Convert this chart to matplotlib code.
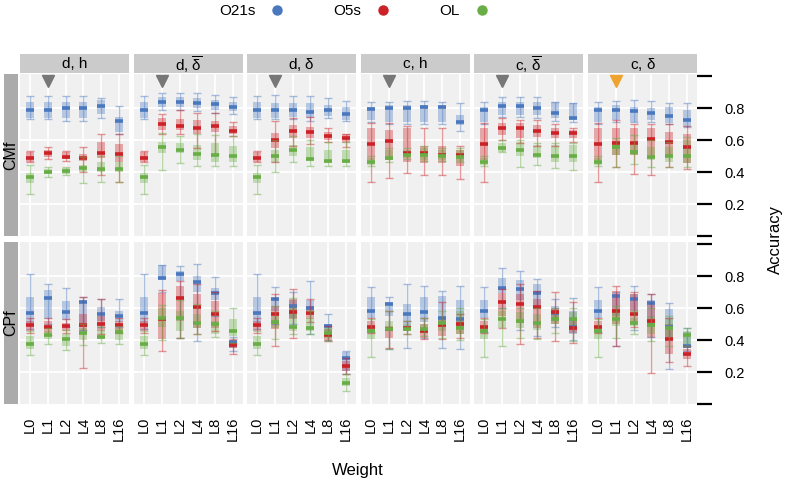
import matplotlib
matplotlib.use("Agg")
from matplotlib import pyplot as plt
from matplotlib.lines import Line2D
import numpy as np

plt.rcParams['font.family'] = ['Liberation Sans', 'DejaVu Sans']
plt.rcParams['mathtext.fontset'] = 'custom'
plt.rcParams['mathtext.rm'] = 'Liberation Sans'
plt.rcParams['mathtext.it'] = 'Liberation Sans'

panels = ["d, h", r"d, $\overline{\delta}$", r"d, $\delta$",
          "c, h", r"c, $\overline{\delta}$", r"c, $\delta$"]
weights = ["L0", "L1", "L2", "L4", "L8", "L16"]
rows = ["CMf", "CPf"]
series = ["O21s", "O5s", "OL"]
series_colors = ["#4a78be", "#cc2127", "#68ad45"]

# marker above the chosen weight in every panel
marker_weight = "L1"
marker_level = 0.97
marker_colors = ["#777777"] * 5 + ["#f0a22e"]

# each entry: (lower whisker, q1, median, q3, upper whisker), panels x weights
o21s_cmf = [
    [(0.73, 0.74, 0.79, 0.84, 0.875), (0.73, 0.74, 0.79, 0.84, 0.875), (0.72, 0.735, 0.80, 0.84, 0.875),
     (0.72, 0.735, 0.80, 0.84, 0.875), (0.74, 0.76, 0.815, 0.85, 0.865), (0.64, 0.65, 0.72, 0.745, 0.815)],
    [(0.73, 0.74, 0.79, 0.84, 0.875), (0.79, 0.808, 0.84, 0.867, 0.896), (0.79, 0.808, 0.837, 0.867, 0.896),
     (0.78, 0.80, 0.829, 0.86, 0.892), (0.77, 0.79, 0.823, 0.85, 0.88), (0.76, 0.78, 0.808, 0.84, 0.87)],
    [(0.73, 0.74, 0.79, 0.84, 0.875), (0.73, 0.74, 0.7875, 0.833, 0.881), (0.73, 0.745, 0.7875, 0.829, 0.875),
     (0.72, 0.735, 0.777, 0.829, 0.875), (0.74, 0.75, 0.7875, 0.819, 0.86), (0.72, 0.725, 0.76, 0.808, 0.846)],
    [(0.71, 0.725, 0.794, 0.808, 0.84), (0.70, 0.715, 0.798, 0.819, 0.84), (0.70, 0.715, 0.798, 0.819, 0.846),
     (0.70, 0.715, 0.808, 0.819, 0.846), (0.70, 0.715, 0.808, 0.819, 0.84), (0.658, 0.694, 0.715, 0.756, 0.829)],
    [(0.70, 0.715, 0.79, 0.808, 0.84), (0.745, 0.756, 0.815, 0.84, 0.867), (0.745, 0.756, 0.813, 0.84, 0.871),
     (0.74, 0.756, 0.798, 0.84, 0.871), (0.72, 0.735, 0.767, 0.84, 0.84), (0.71, 0.725, 0.74, 0.829, 0.833)],
    [(0.70, 0.715, 0.79, 0.808, 0.84), (0.715, 0.725, 0.7875, 0.819, 0.844), (0.71, 0.715, 0.78, 0.808, 0.85),
     (0.715, 0.725, 0.77, 0.798, 0.844), (0.70, 0.704, 0.75, 0.808, 0.833), (0.68, 0.683, 0.725, 0.788, 0.829)],
]
o5s_cmf = [
    [(0.46, 0.465, 0.49, 0.527, 0.53), (0.48, 0.496, 0.517, 0.537, 0.554), (0.47, 0.479, 0.496, 0.527, 0.53),
     (0.40, 0.47, 0.49, 0.51, 0.558), (0.38, 0.49, 0.52, 0.59, 0.64), (0.34, 0.46, 0.51, 0.575, 0.64)],
    [(0.46, 0.465, 0.49, 0.527, 0.53), (0.6375, 0.6625, 0.698, 0.735, 0.7625), (0.64, 0.66, 0.69, 0.73, 0.7875),
     (0.55, 0.6375, 0.677, 0.725, 0.77), (0.51, 0.65, 0.6875, 0.719, 0.77), (0.625, 0.637, 0.658, 0.69, 0.71)],
    [(0.46, 0.465, 0.49, 0.527, 0.53), (0.465, 0.548, 0.60, 0.646, 0.72), (0.56, 0.61, 0.658, 0.694, 0.735),
     (0.575, 0.61, 0.652, 0.679, 0.745), (0.59, 0.60, 0.625, 0.652, 0.673), (0.558, 0.58, 0.615, 0.637, 0.64)],
    [(0.34, 0.475, 0.575, 0.673, 0.704), (0.36, 0.475, 0.596, 0.6625, 0.704), (0.396, 0.46, 0.52, 0.673, 0.69),
     (0.38, 0.454, 0.517, 0.5625, 0.673), (0.38, 0.454, 0.506, 0.5625, 0.673), (0.354, 0.44, 0.506, 0.54, 0.5625)],
    [(0.34, 0.475, 0.575, 0.673, 0.704), (0.60, 0.631, 0.673, 0.704, 0.74), (0.58, 0.61, 0.673, 0.704, 0.725),
     (0.56, 0.619, 0.656, 0.694, 0.725), (0.56, 0.61, 0.646, 0.673, 0.70), (0.59, 0.61, 0.642, 0.6625, 0.675)],
    [(0.34, 0.475, 0.575, 0.673, 0.704), (0.433, 0.506, 0.579, 0.673, 0.725), (0.39, 0.506, 0.583, 0.673, 0.70),
     (0.38, 0.50, 0.604, 0.673, 0.70), (0.433, 0.50, 0.59, 0.652, 0.70), (0.417, 0.454, 0.558, 0.64, 0.69)],
]
ol_cmf = [
    [(0.2625, 0.333, 0.367, 0.396, 0.444), (0.37, 0.39, 0.40, 0.417, 0.43), (0.38, 0.39, 0.406, 0.427, 0.43),
     (0.333, 0.40, 0.423, 0.444, 0.496), (0.34, 0.40, 0.417, 0.465, 0.50), (0.34, 0.40, 0.417, 0.465, 0.50)],
    [(0.2625, 0.333, 0.367, 0.396, 0.444), (0.4125, 0.517, 0.554, 0.59, 0.646), (0.454, 0.517, 0.54, 0.579, 0.625),
     (0.4375, 0.475, 0.51, 0.569, 0.64), (0.4375, 0.465, 0.504, 0.579, 0.63), (0.4375, 0.465, 0.502, 0.562, 0.625)],
    [(0.2625, 0.333, 0.367, 0.396, 0.444), (0.402, 0.458, 0.50, 0.5375, 0.60), (0.465, 0.50, 0.5375, 0.569, 0.625),
     (0.44, 0.47, 0.483, 0.558, 0.60), (0.44, 0.454, 0.47, 0.5375, 0.59), (0.4375, 0.454, 0.47, 0.5375, 0.59)],
    [(0.44, 0.444, 0.465, 0.485, 0.50), (0.46, 0.475, 0.485, 0.537, 0.55), (0.48, 0.485, 0.506, 0.537, 0.55),
     (0.47, 0.475, 0.506, 0.548, 0.56), (0.47, 0.475, 0.50, 0.537, 0.55), (0.46, 0.465, 0.496, 0.537, 0.55)],
    [(0.44, 0.444, 0.465, 0.485, 0.50), (0.527, 0.527, 0.548, 0.579, 0.60), (0.433, 0.50, 0.5375, 0.59, 0.60),
     (0.444, 0.485, 0.506, 0.569, 0.58), (0.423, 0.465, 0.50, 0.569, 0.58), (0.4125, 0.465, 0.50, 0.569, 0.58)],
    [(0.44, 0.444, 0.465, 0.485, 0.50), (0.433, 0.506, 0.558, 0.59, 0.61), (0.45, 0.506, 0.527, 0.569, 0.63),
     (0.433, 0.475, 0.496, 0.558, 0.60), (0.433, 0.465, 0.50, 0.558, 0.59), (0.433, 0.454, 0.50, 0.598, 0.62)],
]

o21s_cpf = [
    [(0.47, 0.508, 0.571, 0.669, 0.81), (0.498, 0.529, 0.66, 0.71, 0.748), (0.48, 0.523, 0.577, 0.644, 0.727),
     (0.46, 0.48, 0.6375, 0.65, 0.669), (0.48, 0.519, 0.565, 0.608, 0.654), (0.48, 0.51, 0.552, 0.58, 0.654)],
    [(0.47, 0.508, 0.571, 0.669, 0.81), (0.70, 0.773, 0.785, 0.869, 0.869), (0.41, 0.77, 0.81, 0.83, 0.865),
     (0.394, 0.70, 0.7625, 0.80, 0.873), (0.55, 0.65, 0.696, 0.725, 0.796), (0.33, 0.35, 0.385, 0.40, 0.42)],
    [(0.47, 0.508, 0.571, 0.669, 0.81), (0.50, 0.58, 0.658, 0.66, 0.731), (0.50, 0.54, 0.6125, 0.65, 0.70),
     (0.44, 0.58, 0.598, 0.65, 0.769), (0.40, 0.45, 0.4875, 0.50, 0.565), (0.185, 0.206, 0.285, 0.327, 0.33)],
    [(0.45, 0.54, 0.581, 0.669, 0.731), (0.342, 0.55, 0.627, 0.64, 0.669), (0.348, 0.49, 0.565, 0.623, 0.752),
     (0.41, 0.51, 0.575, 0.669, 0.7375), (0.348, 0.50, 0.54, 0.675, 0.706), (0.342, 0.48, 0.53, 0.65, 0.7375)],
    [(0.45, 0.54, 0.581, 0.648, 0.731), (0.60, 0.696, 0.723, 0.79, 0.848), (0.46, 0.65, 0.717, 0.775, 0.83),
     (0.425, 0.60, 0.696, 0.75, 0.779), (0.48, 0.52, 0.57, 0.61, 0.654), (0.40, 0.44, 0.48, 0.58, 0.665)],
    [(0.45, 0.54, 0.581, 0.648, 0.731), (0.3625, 0.55, 0.675, 0.69, 0.702), (0.46, 0.58, 0.654, 0.69, 0.7375),
     (0.42, 0.50, 0.633, 0.65, 0.685), (0.217, 0.42, 0.48, 0.592, 0.633), (0.33, 0.35, 0.3625, 0.45, 0.477)],
]
o5s_cpf = [
    [(0.446, 0.456, 0.492, 0.519, 0.54), (0.43, 0.446, 0.483, 0.519, 0.54), (0.446, 0.456, 0.4875, 0.508, 0.53),
     (0.227, 0.446, 0.494, 0.56, 0.669), (0.435, 0.456, 0.498, 0.55, 0.658), (0.446, 0.456, 0.492, 0.519, 0.535)],
    [(0.446, 0.456, 0.492, 0.519, 0.54), (0.331, 0.404, 0.529, 0.696, 0.71), (0.41, 0.519, 0.665, 0.7375, 0.77),
     (0.435, 0.477, 0.606, 0.685, 0.75), (0.456, 0.477, 0.56, 0.644, 0.70), (0.31, 0.348, 0.367, 0.383, 0.404)],
    [(0.446, 0.456, 0.492, 0.519, 0.54), (0.3625, 0.467, 0.56, 0.6125, 0.685), (0.415, 0.529, 0.577, 0.654, 0.717),
     (0.51, 0.529, 0.567, 0.6125, 0.654), (0.394, 0.394, 0.431, 0.467, 0.4875), (0.185, 0.206, 0.2375, 0.269, 0.29)],
    [(0.446, 0.456, 0.483, 0.519, 0.535), (0.352, 0.415, 0.467, 0.4875, 0.58), (0.44, 0.456, 0.477, 0.4875, 0.52),
     (0.404, 0.415, 0.456, 0.50, 0.54), (0.404, 0.425, 0.492, 0.529, 0.635), (0.415, 0.44, 0.502, 0.519, 0.56)],
    [(0.446, 0.456, 0.483, 0.519, 0.535), (0.477, 0.55, 0.64, 0.696, 0.717), (0.377, 0.508, 0.627, 0.685, 0.75),
     (0.415, 0.477, 0.606, 0.654, 0.706), (0.394, 0.50, 0.575, 0.60, 0.702), (0.38, 0.446, 0.477, 0.529, 0.64)],
    [(0.446, 0.456, 0.483, 0.519, 0.535), (0.3625, 0.498, 0.581, 0.706, 0.7375), (0.48, 0.50, 0.56, 0.685, 0.70),
     (0.196, 0.415, 0.519, 0.633, 0.69), (0.265, 0.31, 0.404, 0.50, 0.535), (0.2375, 0.279, 0.31, 0.342, 0.3625)],
]
ol_cpf = [
    [(0.306, 0.342, 0.377, 0.425, 0.456), (0.373, 0.404, 0.431, 0.456, 0.477), (0.335, 0.363, 0.408, 0.435, 0.465),
     (0.37, 0.40, 0.446, 0.477, 0.50), (0.383, 0.404, 0.419, 0.46, 0.48), (0.373, 0.40, 0.452, 0.477, 0.49)],
    [(0.306, 0.342, 0.377, 0.425, 0.456), (0.40, 0.48, 0.535, 0.60, 0.62), (0.415, 0.456, 0.535, 0.58, 0.65),
     (0.44, 0.477, 0.504, 0.56, 0.625), (0.42, 0.435, 0.498, 0.52, 0.58), (0.38, 0.425, 0.456, 0.529, 0.602)],
    [(0.306, 0.342, 0.377, 0.425, 0.456), (0.404, 0.477, 0.515, 0.55, 0.615), (0.435, 0.456, 0.481, 0.60, 0.665),
     (0.435, 0.456, 0.477, 0.535, 0.58), (0.394, 0.415, 0.446, 0.467, 0.477), (0.08, 0.1125, 0.133, 0.165, 0.185)],
    [(0.294, 0.404, 0.456, 0.477, 0.529), (0.342, 0.456, 0.467, 0.519, 0.58), (0.44, 0.456, 0.471, 0.50, 0.52),
     (0.425, 0.446, 0.467, 0.50, 0.54), (0.415, 0.456, 0.508, 0.535, 0.58), (0.40, 0.435, 0.477, 0.58, 0.60)],
    [(0.294, 0.404, 0.456, 0.477, 0.529), (0.3625, 0.477, 0.529, 0.58, 0.60), (0.415, 0.475, 0.519, 0.573, 0.60),
     (0.404, 0.46, 0.504, 0.56, 0.60), (0.446, 0.50, 0.529, 0.573, 0.60), (0.394, 0.477, 0.529, 0.573, 0.598)],
    [(0.294, 0.404, 0.456, 0.477, 0.529), (0.415, 0.488, 0.529, 0.581, 0.61), (0.435, 0.488, 0.508, 0.54, 0.58),
     (0.394, 0.44, 0.492, 0.55, 0.60), (0.3625, 0.415, 0.477, 0.54, 0.548), (0.3625, 0.3625, 0.431, 0.456, 0.477)],
]

row_data = [[o21s_cmf, o5s_cmf, ol_cmf], [o21s_cpf, o5s_cpf, ol_cpf]]

W, H = 789, 487
fig = plt.figure(figsize=(W / 100, H / 100), dpi=100)


def rect(x0, y0, x1, y1):
    return [x0 / W, 1 - y1 / H, (x1 - x0) / W, (y1 - y0) / H]


panel_left = [20, 134, 247, 361, 474, 588]
panel_w = 109
row_top = [74, 242]
row_bot = [236, 404]
x = np.arange(len(weights))
bw = 0.45

for r in range(2):
    # row strip on the left
    sax = fig.add_axes(rect(4, row_top[r], 18, row_bot[r]))
    sax.set_facecolor("#ababab")
    sax.set_xticks([]); sax.set_yticks([])
    for s in sax.spines.values():
        s.set_visible(False)
    sax.text(0.5, 0.5, rows[r], rotation=90, ha="center", va="center",
             fontsize=11.5, transform=sax.transAxes)

    for p in range(6):
        ax = fig.add_axes(rect(panel_left[p], row_top[r], panel_left[p] + panel_w, row_bot[r]))
        ax.set_facecolor("#f0f0f0")
        for s in ax.spines.values():
            s.set_visible(False)
        ax.set_xlim(-0.56, 5.56)
        ax.set_ylim(0, 1.0125)
        ax.set_xticks(x)
        ax.set_yticks([0.2, 0.4, 0.6, 0.8])
        ax.grid(True, color="white", linewidth=1.3)
        ax.set_axisbelow(True)
        ax.tick_params(left=False, labelleft=False, bottom=False, length=0)
        if r == 1:
            ax.set_xticklabels(weights, rotation=90, fontsize=10.5)
            ax.tick_params(axis="x", pad=9)
        else:
            ax.set_xticklabels([])

        for k, sdata in enumerate(row_data[r]):
            st = np.array(sdata[p])
            lo, q1, med, q3, hi = st.T
            c = series_colors[k]
            ax.vlines(x, lo, hi, color=c, alpha=0.45, linewidth=1)
            ax.hlines(lo, x - bw / 2, x + bw / 2, color=c, alpha=0.45, linewidth=1)
            ax.hlines(hi, x - bw / 2, x + bw / 2, color=c, alpha=0.45, linewidth=1)
            ax.bar(x, q3 - q1, bottom=q1, width=bw, color=c, alpha=0.35, linewidth=0)
            ax.hlines(med, x - bw / 2, x + bw / 2, color=c, linewidth=2.6)

        if r == 0:
            mi = weights.index(marker_weight)
            ax.plot([mi], [marker_level], marker="v", color=marker_colors[p],
                    markersize=8, linestyle="")
            tax = fig.add_axes(rect(panel_left[p], 54, panel_left[p] + panel_w, 73))
            tax.set_facecolor("#cbcbcb")
            tax.set_xticks([]); tax.set_yticks([])
            for s in tax.spines.values():
                s.set_visible(False)
            tax.text(0.5, 0.45, panels[p], ha="center", va="center", fontsize=11,
                     transform=tax.transAxes)

        if p == 5:
            ax.tick_params(axis="y", which="both", right=True, labelright=True,
                           length=11, width=1.6, color="black", pad=9, labelsize=10.5)
            ax.set_yticklabels(["0.2", "0.4", "0.6", "0.8"])
            ax.set_yticks([0.0, 1.0], minor=True)
            ax.tick_params(axis="y", which="minor", right=True, left=False,
                           length=11, width=1.6, color="black")

handles = [Line2D([], [], marker="o", linestyle="", color=c, markersize=6.5) for c in series_colors]
fig.legend(handles, series, loc="center", ncol=3, markerfirst=False, frameon=False,
           bbox_to_anchor=(356 / W, 1 - 11 / H), columnspacing=2.9, handletextpad=0.7,
           handlelength=1.5, fontsize=11)

fig.text(358 / W, 1 - 470 / H, "Weight", ha="center", va="center", fontsize=12)
fig.text(775 / W, 1 - 240 / H, "Accuracy", rotation=90, ha="center", va="center", fontsize=12)

fig.savefig("out.png", dpi=100)
